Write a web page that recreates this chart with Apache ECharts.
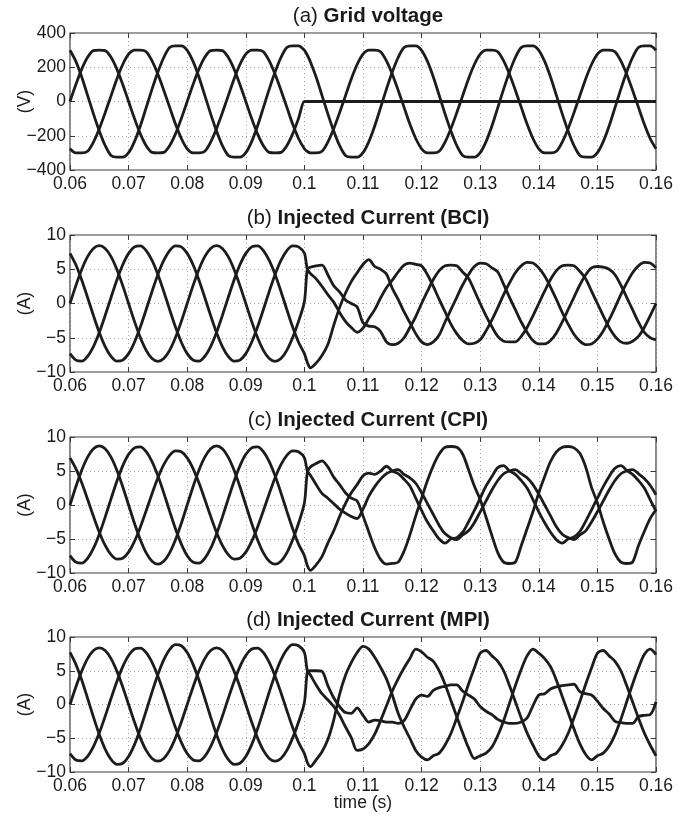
<!DOCTYPE html>
<html>
<head>
<meta charset="utf-8">
<script src="https://cdn.jsdelivr.net/npm/echarts@6/dist/echarts.min.js"></script>
<style>
html,body{margin:0;padding:0;background:#fff;}
#chart{width:695px;height:818px;}
</style>
</head>
<body>
<div id="chart"></div>
<script>
// time base (s)
const t = [0.060,0.061,0.062,0.063,0.064,0.065,0.066,0.067,0.068,0.069,
0.070,0.071,0.072,0.073,0.074,0.075,0.076,0.077,0.078,0.079,
0.080,0.081,0.082,0.083,0.084,0.085,0.086,0.087,0.088,0.089,
0.090,0.091,0.092,0.093,0.094,0.095,0.096,0.097,0.098,0.099,
0.100,0.1005,
0.101,0.102,0.103,0.104,0.105,0.106,0.107,0.108,0.109,0.110,
0.111,0.112,0.113,0.114,0.115,0.116,0.117,0.118,0.119,0.120,
0.121,0.122,0.123,0.124,0.125,0.126,0.127,0.128,0.129,0.130,
0.131,0.132,0.133,0.134,0.135,0.136,0.137,0.138,0.139,0.140,
0.141,0.142,0.143,0.144,0.145,0.146,0.147,0.148,0.149,0.150,
0.151,0.152,0.153,0.154,0.155,0.156,0.157,0.158,0.159,0.160];

// (a) grid voltage, V
const vA = [0,99,189,258,297,300,297,258,189,99,
0,-99,-189,-258,-297,-300,-297,-258,-189,-99,
0,99,189,258,297,300,297,258,189,99,
0,-99,-189,-258,-297,-300,-297,-258,-189,-99,
0,0,
0,0,0,0,0,0,0,0,0,0,
0,0,0,0,0,0,0,0,0,0,
0,0,0,0,0,0,0,0,0,0,
0,0,0,0,0,0,0,0,0,0,
0,0,0,0,0,0,0,0,0,0,
0,0,0,0,0,0,0,0,0,0];
const vB = [-276,-300,-300,-291,-237,-159,-66,33,132,216,
276,300,300,291,237,159,66,-33,-132,-216,
-276,-300,-300,-291,-237,-159,-66,33,132,216,
276,300,300,291,237,159,66,-33,-132,-216,
-276,-292,
-300,-300,-291,-237,-159,-66,33,132,216,276,
300,300,291,237,159,66,-33,-132,-216,-276,
-300,-300,-291,-237,-159,-66,33,132,216,276,
300,300,291,237,159,66,-33,-132,-216,-276,
-300,-300,-291,-237,-159,-66,33,132,216,276,
300,300,291,237,159,66,-33,-132,-216,-276];
const vC = [299,234,143,36,-72,-172,-257,-315,-325,-325,
-299,-234,-143,-36,72,172,257,315,325,325,
299,234,143,36,-72,-172,-257,-315,-325,-325,
-299,-234,-143,-36,72,172,257,315,325,325,
299,270,
234,143,36,-72,-172,-257,-315,-325,-325,-299,
-234,-143,-36,72,172,257,315,325,325,299,
234,143,36,-72,-172,-257,-315,-325,-325,-299,
-234,-143,-36,72,172,257,315,325,325,299,
234,143,36,-72,-172,-257,-315,-325,-325,-299,
-234,-143,-36,72,172,257,315,325,325,299];

// (b) injected current BCI, A
const bA = [0,2.61,4.97,6.84,8.04,8.45,8.04,6.84,4.97,2.61,
0,-2.61,-4.97,-6.84,-8.04,-8.45,-8.04,-6.84,-4.97,-2.61,
0,2.61,4.97,6.84,8.04,8.45,8.04,6.84,4.97,2.61,
0,-2.61,-4.97,-6.84,-8.04,-8.45,-8.04,-6.84,-4.97,-2.61,
0.3,5.0,
5.3,5.5,5.6,4.2,2.6,1.7,0.5,0.0,-0.5,-2.8,
-3.3,-3.4,-4.1,-5.6,-6.0,-5.8,-5.0,-3.5,-1.9,0.0,
1.8,3.5,4.8,5.5,5.6,5.5,4.6,3.7,1.9,0.0,
-1.8,-3.4,-4.8,-5.5,-5.6,-5.6,-4.8,-3.5,-1.8,0.0,
1.8,3.5,4.8,5.5,5.6,5.5,4.7,3.6,1.8,0.0,
-1.8,-3.5,-4.8,-5.6,-5.8,-5.5,-4.8,-3.5,-1.8,0.0];
const bB = [-7.32,-8.26,-8.41,-7.72,-6.28,-4.23,-1.76,0.88,3.44,5.65,
7.32,8.26,8.41,7.72,6.28,4.23,1.76,-0.88,-3.44,-5.65,
-7.32,-8.26,-8.41,-7.72,-6.28,-4.23,-1.76,0.88,3.44,5.65,
7.32,8.26,8.41,7.72,6.28,4.23,1.76,-0.88,-3.44,-5.65,
-7.32,-8.6,
-9.4,-8.7,-7.6,-6.0,-3.2,-0.6,1.5,3.2,4.5,5.7,
6.4,5.4,5.0,4.3,2.2,0.6,-1.2,-2.8,-4.4,-5.6,
-6.0,-5.6,-4.6,-2.7,-0.9,0.9,2.7,4.2,5.4,5.9,
5.8,5.2,4.6,2.8,0.9,-0.9,-2.7,-4.2,-5.4,-5.9,
-5.9,-5.4,-4.3,-2.7,-0.9,0.9,2.7,4.2,5.2,5.4,
5.3,5.0,4.2,2.7,0.9,-0.9,-2.7,-4.2,-5.0,-5.3];
const bC = [7.32,5.65,3.44,0.88,-1.76,-4.23,-6.28,-7.72,-8.41,-8.26,
-7.32,-5.65,-3.44,-0.88,1.76,4.23,6.28,7.72,8.41,8.26,
7.32,5.65,3.44,0.88,-1.76,-4.23,-6.28,-7.72,-8.41,-8.26,
-7.32,-5.65,-3.44,-0.88,1.76,4.23,6.28,7.72,8.41,8.26,
7.32,5.0,
4.4,3.6,2.5,1.3,0.2,-1.3,-2.6,-3.5,-4.2,-3.6,
-2.2,-0.9,0.8,2.3,3.4,4.6,5.6,5.9,5.7,5.5,
4.2,2.5,0.6,-1.2,-3.0,-4.4,-5.4,-5.9,-5.8,-5.3,
-4.0,-2.4,-0.6,1.3,3.0,4.5,5.5,6.0,5.9,5.2,
4.0,2.4,0.6,-1.3,-3.0,-4.5,-5.5,-6.0,-5.9,-5.2,
-4.0,-2.4,-0.6,1.3,3.0,4.5,5.5,6.0,5.9,5.2];

// (c) injected current CPI, A
const cA = [0,2.69,5.11,7.04,8.27,8.7,8.27,7.04,5.11,2.69,
0,-2.69,-5.11,-7.04,-8.27,-8.7,-8.27,-7.04,-5.11,-2.69,
0,2.69,5.11,7.04,8.27,8.7,8.27,7.04,5.11,2.69,
0,-2.69,-5.11,-7.04,-8.27,-8.7,-8.27,-7.04,-5.11,-2.69,
0.3,4.8,
5.6,6.1,6.5,5.6,4.1,3.0,1.8,1.0,0.6,-1.6,
-4.0,-6.3,-8.0,-8.7,-8.6,-8.4,-6.8,-4.4,-1.6,1.0,
3.6,5.8,7.5,8.5,8.6,8.5,7.5,5.2,2.8,0.8,
-1.8,-4.5,-7.0,-8.4,-8.6,-8.4,-6.0,-3.5,-1.0,1.8,
4.2,6.4,7.8,8.5,8.6,8.4,7.6,5.6,2.6,0.3,
-2.5,-5.0,-7.2,-8.4,-8.6,-8.4,-6.0,-3.9,-2.0,-0.7];
const cB = [-7.45,-8.41,-8.56,-7.86,-6.39,-4.3,-1.79,0.9,3.5,5.75,
7.45,8.41,8.56,7.86,6.39,4.3,1.79,-0.9,-3.5,-5.75,
-7.45,-8.41,-8.56,-7.86,-6.39,-4.3,-1.79,0.9,3.5,5.75,
7.45,8.41,8.56,7.86,6.39,4.3,1.79,-0.9,-3.5,-5.75,
-7.45,-8.9,
-9.6,-8.8,-7.6,-5.6,-3.8,-1.7,0.2,1.8,3.0,4.3,
4.7,4.5,5.0,5.7,5.0,4.6,3.8,2.8,1.0,-0.8,
-2.5,-3.8,-5.0,-5.6,-5.0,-4.8,-4.0,-2.5,-0.8,1.0,
2.8,4.2,5.5,5.8,5.0,4.5,3.6,2.5,0.8,-1.0,
-2.6,-4.0,-5.1,-5.6,-5.0,-4.7,-3.9,-2.4,-0.7,1.0,
2.7,4.2,5.4,5.8,5.1,4.5,3.6,2.5,0.8,-0.9];
const cC = [6.93,5.35,3.26,0.84,-1.66,-4.0,-5.94,-7.31,-7.96,-7.82,
-6.93,-5.35,-3.26,-0.84,1.66,4.0,5.94,7.31,7.96,7.82,
6.93,5.35,3.26,0.84,-1.66,-4.0,-5.94,-7.31,-7.96,-7.82,
-6.93,-5.35,-3.26,-0.84,1.66,4.0,5.94,7.31,7.96,7.82,
6.93,5.0,
4.4,3.0,1.7,1.0,0.2,-0.6,-1.2,-1.7,-2.0,-0.6,
1.3,2.7,3.8,4.6,5.0,5.2,4.5,4.0,3.2,1.8,
0.2,-1.4,-3.0,-4.2,-4.8,-5.1,-4.4,-3.8,-2.6,-1.0,
0.6,2.2,3.6,4.6,5.0,5.2,4.6,4.0,3.0,1.6,
0.0,-1.6,-3.2,-4.3,-4.8,-5.1,-4.4,-3.8,-2.5,-1.0,
0.6,2.2,3.6,4.6,5.0,5.2,4.6,3.9,2.9,1.5];

// (d) injected current MPI, A
const dA = [0,2.6,4.94,6.8,7.99,8.4,7.99,6.8,4.94,2.6,
0,-2.6,-4.94,-6.8,-7.99,-8.4,-7.99,-6.8,-4.94,-2.6,
0,2.6,4.94,6.8,7.99,8.4,7.99,6.8,4.94,2.6,
0,-2.6,-4.94,-6.8,-7.99,-8.4,-7.99,-6.8,-4.94,-2.6,
0.3,4.8,
5.0,5.0,4.9,2.8,1.0,-0.3,-1.2,-1.3,-0.5,-1.6,
-2.6,-2.3,-2.4,-2.6,-2.6,-2.8,-2.4,-0.8,0.8,1.4,
1.2,2.1,2.5,2.7,2.9,2.9,2.0,1.4,0.8,-0.3,
-1.0,-1.5,-2.2,-2.6,-2.8,-2.8,-2.6,-2.0,-0.2,1.4,
1.6,2.3,2.6,2.8,2.9,3.0,1.9,1.6,1.4,0.5,
-0.6,-1.4,-2.5,-2.7,-2.8,-2.8,-1.8,-1.6,-1.5,0.4];
const dB = [-7.27,-8.22,-8.36,-7.68,-6.24,-4.2,-1.75,0.88,3.42,5.62,
7.27,8.22,8.36,7.68,6.24,4.2,1.75,-0.88,-3.42,-5.62,
-7.27,-8.22,-8.36,-7.68,-6.24,-4.2,-1.75,0.88,3.42,5.62,
7.27,8.22,8.36,7.68,6.24,4.2,1.75,-0.88,-3.42,-5.62,
-7.27,-8.6,
-9.2,-8.2,-7.0,-5.2,-2.3,1.5,4.3,6.2,7.7,8.6,
8.2,7.0,5.5,3.8,1.4,-1.3,-3.3,-5.0,-6.8,-7.8,
-8.2,-7.6,-7.2,-6.0,-4.3,-2.0,0.4,3.0,5.4,7.6,
8.0,7.2,6.4,5.0,2.8,0.4,-2.0,-4.2,-6.0,-7.6,
-8.2,-7.6,-7.2,-6.0,-4.3,-2.0,0.4,3.0,5.4,7.6,
8.0,7.2,6.4,5.0,2.8,0.4,-2.0,-4.2,-6.0,-7.6];
const dC = [7.71,5.95,3.62,0.93,-1.85,-4.45,-6.61,-8.13,-8.86,-8.7,
-7.71,-5.95,-3.62,-0.93,1.85,4.45,6.61,8.13,8.86,8.7,
7.71,5.95,3.62,0.93,-1.85,-4.45,-6.61,-8.13,-8.86,-8.7,
-7.71,-5.95,-3.62,-0.93,1.85,4.45,6.61,8.13,8.86,8.7,
7.71,5.0,
4.4,2.9,1.6,0.7,-0.3,-1.6,-3.3,-4.9,-6.8,-6.6,
-5.8,-4.4,-2.4,-0.2,2.0,3.8,5.4,6.8,8.2,7.8,
7.0,6.4,5.0,3.0,0.6,-1.8,-4.2,-6.4,-8.0,-7.6,
-7.2,-6.3,-4.6,-2.4,0.2,2.8,5.2,7.2,8.2,7.6,
6.8,5.6,3.6,1.2,-1.2,-3.6,-5.8,-7.4,-8.2,-7.6,
-7.2,-6.2,-4.5,-2.2,0.4,3.0,5.4,7.4,8.2,7.4];

// titles and tick labels
const titlesPrefix = ['(a)', '(b)', '(c)', '(d)'];
const titlesMain = ['Grid voltage', 'Injected Current (BCI)', 'Injected Current (CPI)', 'Injected Current (MPI)'];
const yNames = ['(V)', '(A)', '(A)', '(A)'];
const xTickLabels = ['0.06','0.07','0.08','0.09','0.1','0.11','0.12','0.13','0.14','0.15','0.16'];
const vTickLabels = ['\u2212400','\u2212200','0','200','400'];
const iTickLabels = ['\u221210','\u22125','0','5','10'];

const panels = [
  { series: [vA, vB, vC], min: -400, max: 400, step: 200, labels: vTickLabels },
  { series: [bA, bB, bC], min: -10, max: 10, step: 5, labels: iTickLabels },
  { series: [cA, cB, cC], min: -10, max: 10, step: 5, labels: iTickLabels },
  { series: [dA, dB, dC], min: -10, max: 10, step: 5, labels: iTickLabels }
];

const FONT = '"Liberation Sans", Arial, Helvetica, sans-serif';
const TXT = '#1a1a1a';
const FRAME = '#3a3a3a';
const GRIDC = '#a8a8a8';
const LINEC = '#1c1c1c';
const tops = [33, 235, 437, 637];
const heights = [137, 137, 136, 135];
const LEFT = 70, WIDTH = 586;

const grid = [], xAxis = [], yAxis = [], series = [], title = [];
panels.forEach((p, i) => {
  grid.push({ left: LEFT, top: tops[i], width: WIDTH, height: heights[i], show: true,
    borderColor: FRAME, borderWidth: 1.2, backgroundColor: '#fff', containLabel: false });
  title.push({
    text: '{n|' + titlesPrefix[i] + '} {b|' + titlesMain[i] + '}',
    left: LEFT + WIDTH / 2, top: tops[i] - 32, textAlign: 'center',
    textStyle: { fontFamily: FONT, fontSize: 20.5, color: TXT,
      rich: { n: { fontFamily: FONT, fontSize: 20.5, fontWeight: 'normal', color: TXT },
              b: { fontFamily: FONT, fontSize: 20.5, fontWeight: 'bold', color: TXT } } }
  });
  const tick = { show: true, inside: true, length: 5, lineStyle: { color: FRAME, width: 1 } };
  const xb = {
    type: 'value', gridIndex: i, position: 'bottom', min: 0.06, max: 0.16, interval: 0.01,
    axisLine: { show: false, onZero: false },
    axisTick: tick,
    axisLabel: { show: true, margin: 5, fontFamily: FONT, fontSize: 17.5, color: TXT,
      formatter: v => xTickLabels[Math.round((v - 0.06) / 0.01)] },
    splitLine: { show: true, lineStyle: { color: GRIDC, type: [1, 3], width: 1 } }
  };
  if (i === 3) {
    xb.name = 'time (s)';
    xb.nameLocation = 'middle';
    xb.nameGap = 22;
    xb.nameMoveOverlap = false;
    xb.nameTextStyle = { fontFamily: FONT, fontSize: 17.5, color: TXT };
  }
  xAxis.push(xb);
  xAxis.push({
    type: 'value', gridIndex: i, position: 'top', min: 0.06, max: 0.16, interval: 0.01,
    axisLine: { show: false, onZero: false },
    axisTick: tick,
    axisLabel: { show: false }, splitLine: { show: false }
  });
  yAxis.push({
    type: 'value', gridIndex: i, position: 'left', min: p.min, max: p.max, interval: p.step,
    name: yNames[i], nameLocation: 'middle', nameGap: 36, nameMoveOverlap: false,
    nameTextStyle: { fontFamily: FONT, fontSize: 17.5, color: TXT },
    axisLine: { show: false, onZero: false },
    axisTick: tick,
    axisLabel: { show: true, margin: 4, fontFamily: FONT, fontSize: 17.5, color: TXT,
      formatter: v => p.labels[Math.round((v - p.min) / p.step)] },
    splitLine: { show: true, lineStyle: { color: GRIDC, type: [1, 3], width: 1 } }
  });
  yAxis.push({
    type: 'value', gridIndex: i, position: 'right', min: p.min, max: p.max, interval: p.step,
    axisLine: { show: false, onZero: false },
    axisTick: tick,
    axisLabel: { show: false }, splitLine: { show: false }
  });
  p.series.forEach(arr => {
    series.push({
      type: 'line', xAxisIndex: 2 * i, yAxisIndex: 2 * i,
      data: t.map((x, k) => [x, arr[k]]),
      showSymbol: false, smooth: 0.3, clip: true,
      lineStyle: { color: LINEC, width: 2.8 }, itemStyle: { color: LINEC },
      emphasis: { disabled: true }, silent: true
    });
  });
});

const chart = echarts.init(document.getElementById('chart'), null, { renderer: 'canvas' });
chart.setOption({ animation: false, backgroundColor: '#fff', title, grid, xAxis, yAxis, series });
</script>
</body>
</html>
